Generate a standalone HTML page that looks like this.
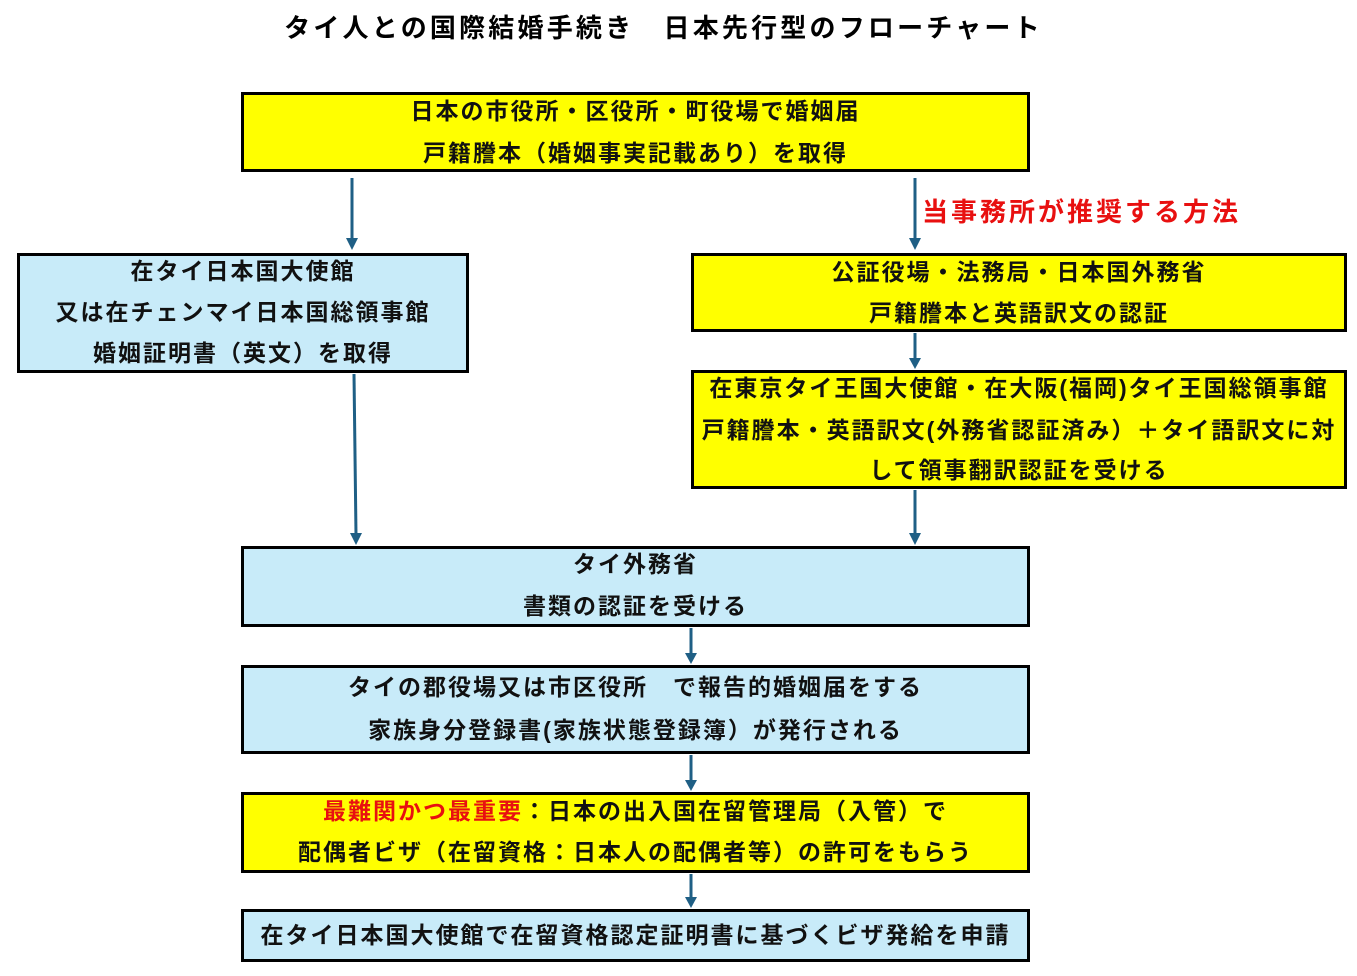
<!DOCTYPE html>
<html><head><meta charset="utf-8"><style>
body{margin:0;width:1357px;height:976px;background:#fff;position:relative;overflow:hidden;font-family:"Liberation Sans","Noto Sans CJK JP",sans-serif;font-weight:bold;}
.b{position:absolute;box-sizing:border-box;border:3px solid #000;}
.y{background:#ffff00}.c{background:#c8ebf9}
.l{position:absolute;left:0;right:0;text-align:center;white-space:nowrap;font-size:23px;line-height:30px;letter-spacing:2px;transform:translateY(-50%);color:#111}
.r{color:#e81010}
svg{position:absolute;left:0;top:0}
</style></head><body>
<div style="position:absolute;left:0;width:1327px;top:12px;text-align:center;font-size:26px;letter-spacing:3.2px;line-height:32px">タイ人との国際結婚手続き　日本先行型のフローチャート</div>
<div class="r" style="position:absolute;left:922px;top:196px;font-size:26px;letter-spacing:3px;line-height:32px">当事務所が推奨する方法</div>

<div class="b y" style="left:241px;top:92px;width:789px;height:80px">
<div class="l" style="top:16px">日本の市役所・区役所・町役場で婚姻届</div>
<div class="l" style="top:58px">戸籍謄本（婚姻事実記載あり）を取得</div></div>

<div class="b c" style="left:17px;top:253px;width:452px;height:120px">
<div class="l" style="top:15px">在タイ日本国大使館</div>
<div class="l" style="top:56px">又は在チェンマイ日本国総領事館</div>
<div class="l" style="top:97px">婚姻証明書（英文）を取得</div></div>

<div class="b y" style="left:691px;top:253px;width:656px;height:79px">
<div class="l" style="top:16px">公証役場・法務局・日本国外務省</div>
<div class="l" style="top:57px">戸籍謄本と英語訳文の認証</div></div>

<div class="b y" style="left:691px;top:370px;width:656px;height:119px">
<div class="l" style="top:15px">在東京タイ王国大使館・在大阪(福岡)タイ王国総領事館</div>
<div class="l" style="top:57px">戸籍謄本・英語訳文(外務省認証済み）＋タイ語訳文に対</div>
<div class="l" style="top:97px">して領事翻訳認証を受ける</div></div>

<div class="b c" style="left:241px;top:546px;width:789px;height:81px">
<div class="l" style="top:15px">タイ外務省</div>
<div class="l" style="top:57px">書類の認証を受ける</div></div>

<div class="b c" style="left:241px;top:665px;width:789px;height:89px">
<div class="l" style="top:19px">タイの郡役場又は市区役所　で報告的婚姻届をする</div>
<div class="l" style="top:62px">家族身分登録書(家族状態登録簿）が発行される</div></div>

<div class="b y" style="left:241px;top:792px;width:789px;height:81px">
<div class="l" style="top:16px"><span class="r">最難関かつ最重要</span>：日本の出入国在留管理局（入管）で</div>
<div class="l" style="top:57px">配偶者ビザ（在留資格：日本人の配偶者等）の許可をもらう</div></div>

<div class="b c" style="left:241px;top:909px;width:789px;height:53px">
<div class="l" style="top:23px">在タイ日本国大使館で在留資格認定証明書に基づくビザ発給を申請</div></div>

<svg width="1357" height="976">
<g stroke="#1f5f85" stroke-width="3" fill="#1f5f85">
<line x1="352" y1="178" x2="352" y2="240"/><path d="M346,238 L358,238 L352,250 Z" stroke="none"/>
<line x1="915" y1="178" x2="915" y2="240"/><path d="M909,238 L921,238 L915,250 Z" stroke="none"/>
<line x1="915" y1="333" x2="915" y2="360"/><path d="M909,358 L921,358 L915,369 Z" stroke="none"/>
<line x1="354" y1="374" x2="356" y2="535"/><path d="M350,533 L362,533 L356,545 Z" stroke="none"/>
<line x1="915" y1="490" x2="915" y2="535"/><path d="M909,533 L921,533 L915,545 Z" stroke="none"/>
<line x1="691" y1="628" x2="691" y2="655"/><path d="M685,653 L697,653 L691,664 Z" stroke="none"/>
<line x1="691" y1="755" x2="691" y2="782"/><path d="M685,780 L697,780 L691,791 Z" stroke="none"/>
<line x1="691" y1="874" x2="691" y2="899"/><path d="M685,897 L697,897 L691,908 Z" stroke="none"/>
</g></svg>
</body></html>
